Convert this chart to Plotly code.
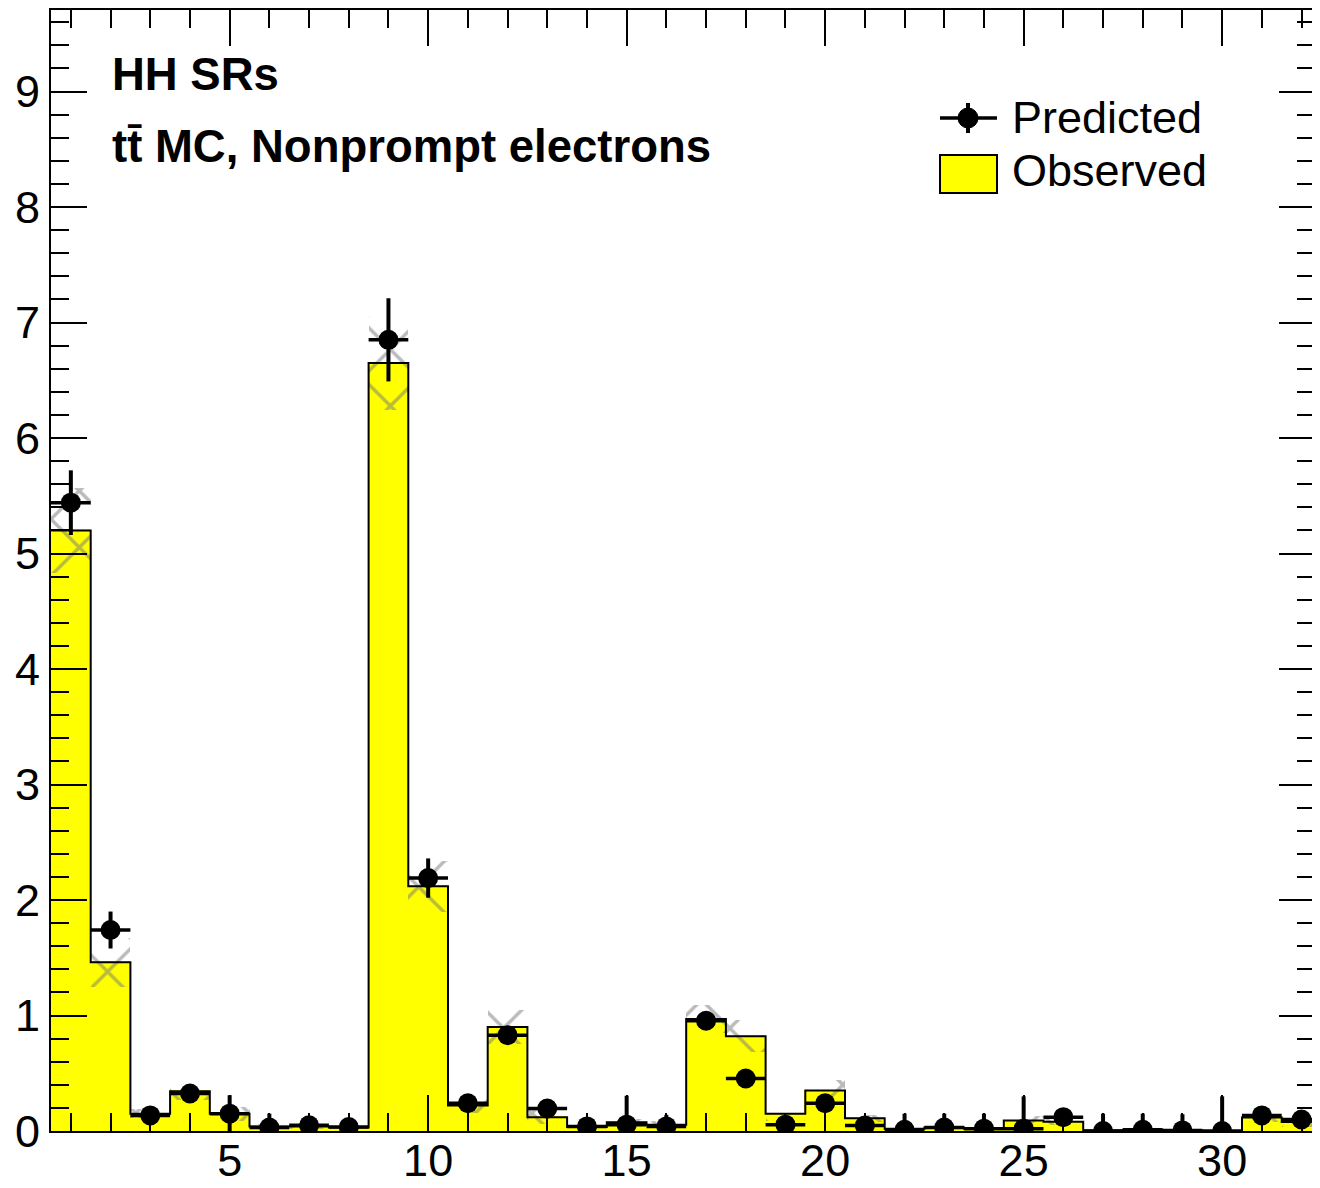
import plotly.graph_objects as go

# ---- data ----
bins = list(range(1, 33))
observed = [5.20, 1.46, 0.15, 0.345, 0.15, 0.04, 0.04, 0.03, 6.65, 2.12, 0.22, 0.90,
            0.12, 0.035, 0.075, 0.055, 0.97, 0.82, 0.15, 0.35, 0.11, 0.02, 0.03, 0.02,
            0.09, 0.08, 0.005, 0.01, 0.005, 0.0, 0.117, 0.077]
observed_err = [0.37, 0.21, 0.04, 0.08, 0.06, 0.02, 0.02, 0.01, 0.41, 0.22, 0.06, 0.15,
                0.06, 0.01, 0.03, 0.03, 0.12, 0.14, 0.06, 0.09, 0.03, 0.01, 0.01, 0.01,
                0.04, 0.03, 0.01, 0.01, 0.01, 0.01, 0.04, 0.04]
predicted = [5.44, 1.74, 0.135, 0.325, 0.15, 0.03, 0.05, 0.035, 6.85, 2.19, 0.24, 0.83,
             0.195, 0.04, 0.055, 0.04, 0.955, 0.455, 0.055, 0.24, 0.048, 0.01, 0.03, 0.02,
             0.02, 0.12, 0.0, 0.01, 0.005, 0.0, 0.135, 0.10]
predicted_err = [0.28, 0.16, 0.05, 0.05, 0.16, 0.12, 0.07, 0.05, 0.36, 0.17, 0.05, 0.06,
                 0.05, 0.04, 0.25, 0.10, 0.06, 0.04, 0.05, 0.07, 0.05, 0.14, 0.12, 0.13,
                 0.28, 0.05, 0.15, 0.14, 0.14, 0.30, 0.05, 0.05]
bin_halfwidth = [0.5] * len(bins)
x_ticks = [5, 10, 15, 20, 25, 30]
y_ticks = [0, 1, 2, 3, 4, 5, 6, 7, 8, 9]

FONT = "Liberation Sans, Arial, Helvetica, sans-serif"

# step histogram outline
edges = [b - 0.5 for b in bins] + [bins[-1] + 0.5]
step_y = observed + [observed[-1]]

fig = go.Figure()

# Observed: yellow filled histogram
fig.add_trace(go.Bar(
    x=bins, y=observed, width=1.0,
    marker=dict(color="#ffff00", line=dict(width=1, color="#ffff00")),
    name="Observed", showlegend=False, hoverinfo="skip"))

# Observed uncertainty: grey cross hatch (drawn above the yellow fill)
fig.add_trace(go.Bar(
    x=bins, y=[2 * e for e in observed_err],
    base=[o - e for o, e in zip(observed, observed_err)],
    width=1.0,
    marker=dict(color="rgba(0,0,0,0)", line=dict(width=0),
                pattern=dict(shape="x", fgcolor="#767676", bgcolor="rgba(0,0,0,0)",
                             size=40, solidity=0.16)),
    showlegend=False, hoverinfo="skip"))

# Observed outline (step)
fig.add_trace(go.Scatter(
    x=edges, y=step_y, mode="lines", line_shape="hv",
    line=dict(color="black", width=2),
    showlegend=False, hoverinfo="skip"))

# Predicted: black points with error bars
fig.add_trace(go.Scatter(
    x=bins, y=predicted, mode="markers",
    marker=dict(color="black", size=20, symbol="circle"),
    error_y=dict(type="data", array=predicted_err, color="black", thickness=4, width=0),
    error_x=dict(type="data", array=bin_halfwidth, color="black", thickness=3.5, width=0),
    name="Predicted", showlegend=False))

# The page body adds an 8px offset at the top-left; size the figure so it ends at the window edge.
OFF = 8
W, H = 1320 - OFF, 1188 - OFF
# plot area in page pixels
L, R, T, B = 51, 1315, 10, 1131
PX_PER_X = 39.7
PX_PER_Y = 115.5


def px(xp):
    return (xp - L) / (R - L)


def py(yp):
    return (B - yp) / (B - T)


shapes = [
    # Predicted legend symbol
    dict(type="line", xref="paper", yref="paper", x0=px(940), x1=px(997), y0=py(118), y1=py(118),
         line=dict(color="black", width=3.5)),
    dict(type="line", xref="paper", yref="paper", x0=px(968), x1=px(968), y0=py(103), y1=py(133),
         line=dict(color="black", width=4)),
    dict(type="circle", xref="paper", yref="paper", x0=px(958), x1=px(978), y0=py(108), y1=py(128),
         fillcolor="black", line=dict(color="black", width=1)),
    # Observed legend symbol
    dict(type="rect", xref="paper", yref="paper", x0=px(940), x1=px(997), y0=py(155), y1=py(193),
         fillcolor="#ffff00", line=dict(color="black", width=2)),
]

annotations = [
    dict(text="<b>HH SRs</b>", x=px(110), y=py(75), xref="paper", yref="paper",
         xanchor="left", yanchor="middle", showarrow=False,
         font=dict(family=FONT, size=45.5, color="black")),
    dict(text="<b>tt\u0304 MC, Nonprompt electrons</b>", x=px(110), y=py(146), xref="paper", yref="paper",
         xanchor="left", yanchor="middle", showarrow=False,
         font=dict(family=FONT, size=45.5, color="black")),
    dict(text="Predicted", x=px(1010), y=py(117), xref="paper", yref="paper",
         xanchor="left", yanchor="middle", showarrow=False,
         font=dict(family=FONT, size=45, color="black")),
    dict(text="Observed", x=px(1010), y=py(171), xref="paper", yref="paper",
         xanchor="left", yanchor="middle", showarrow=False,
         font=dict(family=FONT, size=45, color="black")),
]

axis_common = dict(
    showline=True, linecolor="black", linewidth=2, mirror="ticks",
    ticks="inside", tickcolor="black", tickwidth=2, ticklen=36,
    showgrid=False, zeroline=False, automargin=False,
    tickfont=dict(family=FONT, size=45, color="black"),
)

fig.update_layout(
    width=W, height=H,
    margin=dict(l=L - OFF, r=(W + OFF) - R, t=T - OFF, b=(H + OFF) - B, pad=0),
    paper_bgcolor="white", plot_bgcolor="white",
    showlegend=False, barmode="overlay", bargap=0,
    shapes=shapes, annotations=annotations,
    xaxis=dict(range=[0.5, 0.5 + (R - L) / PX_PER_X], tickmode="array", tickvals=x_ticks,
               ticklabelstandoff=-11,
               minor=dict(ticks="inside", ticklen=18, tickwidth=2, tickcolor="black", dtick=1, tick0=0),
               **axis_common),
    yaxis=dict(range=[0, (B - T) / PX_PER_Y], tickmode="array", tickvals=y_ticks,
               minor=dict(ticks="inside", ticklen=18, tickwidth=2, tickcolor="black", dtick=0.2, tick0=0),
               **axis_common),
)

fig.write_html("out.html")
